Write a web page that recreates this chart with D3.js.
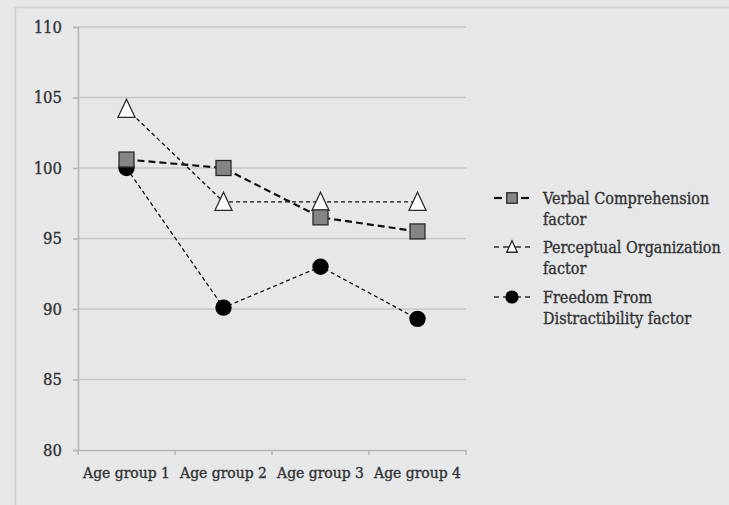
<!DOCTYPE html>
<html><head><meta charset="utf-8">
<script src="https://cdn.jsdelivr.net/npm/d3@7"></script>
<style>body{margin:0;background:#e6e7e9;} svg{display:block;}</style>
</head><body>
<svg id="c" width="729" height="505"></svg>
<script>
const categories = ["Age group 1","Age group 2","Age group 3","Age group 4"];
const verbal = [100.6, 100.0, 96.5, 95.5];
const perceptual = [104.2, 97.6, 97.6, 97.6];
const freedom = [100.0, 90.1, 93.0, 89.3];
const yTicks = [80,85,90,95,100,105,110];
const seriesNames = [["Verbal Comprehension","factor"],["Perceptual Organization","factor"],["Freedom From","Distractibility factor"]];

const svg = d3.select("#c");
const font = "'DejaVu Serif Condensed', 'DejaVu Serif', serif";
const textCol = "#333333";
svg.append("rect").attr("x",15.5).attr("y",7.5).attr("width",740).attr("height",520)
  .attr("fill","#e6e7e9").attr("stroke","#cfd0d2").attr("stroke-width",1.5);

const x = d3.scaleBand().domain(categories).range([78,466]);
const y = d3.scaleLinear().domain([80,110]).range([450,27]);

svg.append("g").selectAll("line").data(yTicks.filter(d=>d>80)).join("line")
  .attr("x1",78).attr("x2",466).attr("y1",d=>y(d)).attr("y2",d=>y(d))
  .attr("stroke","#c6c7c9").attr("stroke-width",1.5);

const yAxis = svg.append("g").attr("transform","translate(78,0)")
  .call(d3.axisLeft(y).tickValues(yTicks).tickSize(5).tickPadding(11));
const xAxis = svg.append("g").attr("transform","translate(0,450)")
  .call(d3.axisBottom(x).tickSize(0).tickPadding(17));
[yAxis,xAxis].forEach(a=>{
  a.select(".domain").attr("stroke","#b4b5b7").attr("stroke-width",1.5);
  a.selectAll(".tick line").attr("stroke","#b4b5b7").attr("stroke-width",1.5);
  a.selectAll("text").attr("fill",textCol).attr("stroke",textCol).attr("stroke-width",0.35)
    .attr("font-family",font);
});
yAxis.selectAll("text").attr("font-size",16.5);
xAxis.selectAll("text").attr("font-size",15.5);
svg.append("g").selectAll("line").data(d3.range(categories.length+1)).join("line")
  .attr("x1",i=>78+i*x.bandwidth()).attr("x2",i=>78+i*x.bandwidth())
  .attr("y1",450).attr("y2",455).attr("stroke","#b4b5b7").attr("stroke-width",1.5);

const cx = c => x(c)+x.bandwidth()/2;
const line = d3.line().x((d,i)=>cx(categories[i])).y(d=>y(d));

const styles = [
  {data:verbal, sw:2.2, dash:"7,4", marker:"square"},
  {data:perceptual, sw:1.3, dash:"4,3", marker:"triangle"},
  {data:freedom, sw:1.3, dash:"4,3", marker:"circle"}
];

function drawMarker(g, type, px, py, scale){
  scale = scale||1;
  if(type==="square"){
    const s=15*scale;
    g.append("rect").attr("x",px-s/2).attr("y",py-s/2).attr("width",s).attr("height",s)
      .attr("fill","#858585").attr("stroke","#2a2a2a").attr("stroke-width",1.3);
  } else if(type==="triangle"){
    const w=17*scale,h=17*scale;
    g.append("path").attr("d",`M${px},${py-h/2-1}L${px+w/2},${py+h/2}L${px-w/2},${py+h/2}Z`)
      .attr("fill","#ffffff").attr("stroke","#2a2a2a").attr("stroke-width",1.3);
  } else {
    g.append("circle").attr("cx",px).attr("cy",py).attr("r",8.2*scale).attr("fill","#000");
  }
}

styles.forEach(s=>{
  svg.append("path").attr("d",line(s.data)).attr("fill","none")
    .attr("stroke","#111").attr("stroke-width",s.sw).attr("stroke-dasharray",s.dash);
});
const mg = svg.append("g");
[2,1,0].forEach(k=>{
  const s=styles[k];
  s.data.forEach((v,i)=>drawMarker(mg,s.marker,cx(categories[i]),y(v)));
});

const legY=[198,247,297];
styles.forEach((s,k)=>{
  const g=svg.append("g");
  const ly=legY[k];
  if(k===0){
    g.append("line").attr("x1",494).attr("x2",502).attr("y1",ly).attr("y2",ly).attr("stroke","#111").attr("stroke-width",2.2);
    g.append("line").attr("x1",521).attr("x2",529).attr("y1",ly).attr("y2",ly).attr("stroke","#111").attr("stroke-width",2.2);
  } else {
    [[494,499],[503,521],[525,530]].forEach(([a,b])=>g.append("line").attr("x1",a).attr("x2",b).attr("y1",ly).attr("y2",ly).attr("stroke","#111").attr("stroke-width",1.3));
  }
  drawMarker(g,s.marker,512,ly,k===0?0.7:(k===1?0.62:0.8));
  const t=g.append("text").attr("x",543).attr("y",ly+6).attr("font-family",font).attr("font-size",16)
    .attr("fill",textCol).attr("stroke",textCol).attr("stroke-width",0.35);
  seriesNames[k].forEach((n,j)=>t.append("tspan").attr("x",543).attr("dy",j?21:0).text(n));
});
</script>
</body></html>
